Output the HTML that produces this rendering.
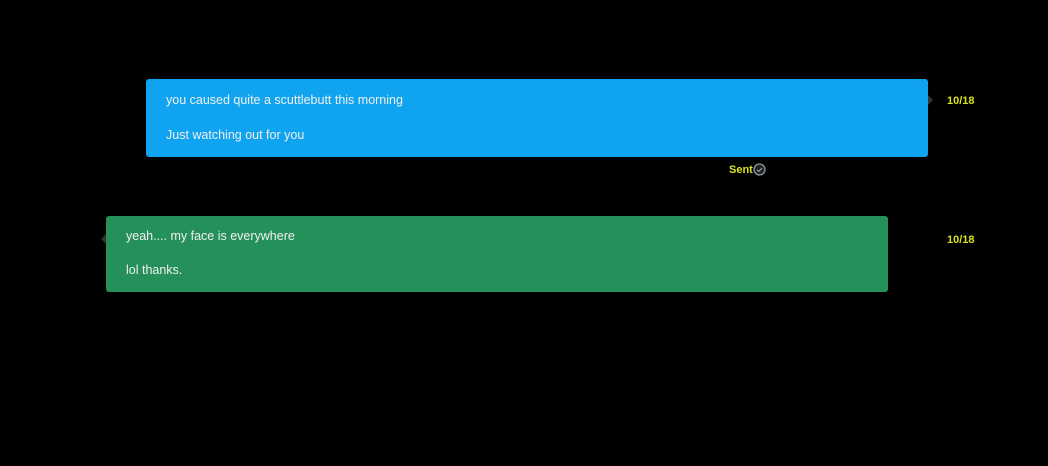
<!DOCTYPE html>
<html><head><meta charset="utf-8"><style>
body{margin:0;width:1048px;height:466px;background:#000;position:relative;overflow:hidden;font-family:"Liberation Sans",sans-serif;}
.b{position:absolute;border-radius:3px;color:#f0f0f0;font-size:12.5px;}
.b div{position:absolute;left:20px;white-space:nowrap;}
.d{position:absolute;color:#d8e21c;font-size:11px;font-weight:bold;}
.tri{position:absolute;width:0;height:0;border-top:5px solid transparent;border-bottom:5px solid transparent;}
</style></head><body>
<div class="b" style="left:146px;top:79px;width:782px;height:78px;background:#0fa3f0;">
<div style="top:14px">you caused quite a scuttlebutt this morning</div>
<div style="top:49px">Just watching out for you</div>
</div>
<div class="tri" style="left:928px;top:95px;border-left:5px solid #333;"></div>
<div class="d" style="left:947px;top:95px;">10/18</div>
<div style="position:absolute;left:729px;top:163px;color:#d8e21c;font-size:11px;font-weight:bold;">Sent<svg width="13" height="13" viewBox="0 0 13 13" style="vertical-align:-3px;margin-left:0px"><circle cx="6.5" cy="6.5" r="5.5" fill="#222" stroke="#8a9aa6" stroke-width="1.3"/><path d="M4 6.8l1.8 1.6 3.2-3.4" fill="none" stroke="#8a9aa6" stroke-width="1.2"/></svg></div>
<div class="b" style="left:106px;top:216px;width:782px;height:76px;background:#25905a;">
<div style="top:13px">yeah.... my face is everywhere</div>
<div style="top:47px">lol thanks.</div>
</div>
<div class="tri" style="left:101px;top:234px;border-right:5px solid #333;"></div>
<div class="d" style="left:947px;top:234px;">10/18</div>
</body></html>
